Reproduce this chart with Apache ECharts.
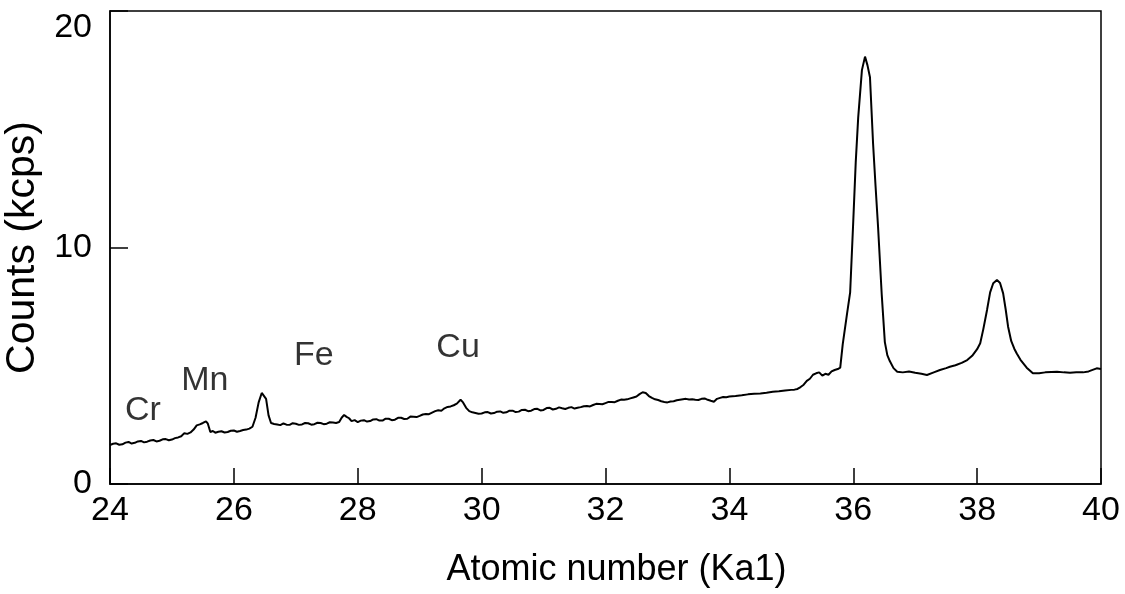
<!DOCTYPE html>
<html>
<head>
<meta charset="utf-8">
<script src="https://cdn.jsdelivr.net/npm/echarts@6/dist/echarts.min.js"></script>
<style>
html,body{margin:0;padding:0;background:#fff;}
#chart{width:1125px;height:594px;}
</style>
</head>
<body>
<div id="chart"></div>
<script>
// X ticks and Y ticks
const xTicks = [24, 26, 28, 30, 32, 34, 36, 38, 40];
const yTicks = [0, 10, 20];

// Spectrum: [atomic number (Ka1), counts (kcps)]
const spectrum = [
  [24.00,1.65],[24.05,1.70],[24.10,1.72],[24.15,1.66],[24.20,1.68],[24.25,1.75],[24.30,1.78],[24.35,1.71],
  [24.40,1.74],[24.45,1.80],[24.50,1.82],[24.55,1.76],[24.60,1.79],[24.65,1.84],[24.70,1.86],[24.75,1.80],
  [24.80,1.83],[24.85,1.89],[24.90,1.90],[24.95,1.85],[25.00,1.88],[25.05,1.94],[25.10,1.97],[25.15,2.02],
  [25.20,2.15],[25.25,2.12],[25.30,2.18],[25.35,2.30],[25.40,2.48],[25.45,2.52],[25.50,2.58],[25.55,2.65],
  [25.58,2.55],[25.62,2.20],[25.66,2.24],[25.70,2.17],[25.75,2.21],[25.80,2.23],[25.85,2.18],[25.90,2.20],
  [25.95,2.25],[26.00,2.26],[26.05,2.21],[26.10,2.24],[26.15,2.28],[26.20,2.30],[26.25,2.34],[26.30,2.42],
  [26.35,2.80],[26.40,3.45],[26.45,3.85],[26.48,3.92],[26.52,3.60],[26.56,2.90],[26.60,2.58],[26.65,2.54],
  [26.70,2.52],[26.75,2.49],[26.80,2.56],[26.85,2.51],[26.90,2.50],[26.95,2.57],[27.00,2.55],[27.05,2.50],
  [27.10,2.52],[27.15,2.58],[27.20,2.57],[27.25,2.51],[27.30,2.53],[27.35,2.59],[27.40,2.58],[27.45,2.53],
  [27.50,2.55],[27.55,2.61],[27.60,2.60],[27.65,2.58],[27.70,2.62],[27.74,2.80],[27.78,2.92],[27.82,2.84],
  [27.86,2.78],[27.90,2.66],[27.95,2.70],[28.00,2.62],[28.05,2.68],[28.10,2.70],[28.15,2.64],[28.20,2.66],
  [28.25,2.73],[28.30,2.74],[28.35,2.68],[28.40,2.68],[28.45,2.76],[28.50,2.76],[28.55,2.70],[28.60,2.72],
  [28.65,2.80],[28.70,2.80],[28.75,2.75],[28.80,2.76],[28.85,2.85],[28.90,2.84],[28.95,2.83],[29.00,2.88],
  [29.05,2.94],[29.10,2.96],[29.15,2.95],[29.20,3.02],[29.25,3.08],[29.30,3.12],[29.35,3.10],[29.40,3.20],
  [29.45,3.26],[29.50,3.28],[29.55,3.33],[29.60,3.40],[29.66,3.56],[29.70,3.45],[29.75,3.22],[29.80,3.08],
  [29.85,3.03],[29.90,3.00],[29.95,2.97],[30.00,2.98],[30.05,3.03],[30.10,3.04],[30.15,2.98],[30.20,3.00],
  [30.25,3.06],[30.30,3.07],[30.35,3.01],[30.40,3.03],[30.45,3.10],[30.50,3.10],[30.55,3.04],[30.60,3.06],
  [30.65,3.13],[30.70,3.14],[30.75,3.08],[30.80,3.10],[30.85,3.17],[30.90,3.18],[30.95,3.11],[31.00,3.13],
  [31.05,3.21],[31.10,3.22],[31.15,3.15],[31.20,3.18],[31.25,3.24],[31.30,3.20],[31.35,3.17],[31.40,3.22],
  [31.45,3.25],[31.50,3.19],[31.55,3.22],[31.60,3.25],[31.65,3.29],[31.70,3.30],[31.75,3.28],[31.80,3.34],
  [31.85,3.39],[31.90,3.38],[31.95,3.37],[32.00,3.42],[32.05,3.47],[32.10,3.47],[32.15,3.46],[32.20,3.52],
  [32.25,3.57],[32.30,3.56],[32.35,3.58],[32.40,3.62],[32.45,3.66],[32.50,3.70],[32.55,3.80],[32.60,3.88],
  [32.65,3.85],[32.70,3.72],[32.75,3.64],[32.80,3.58],[32.85,3.55],[32.90,3.50],[32.95,3.47],[33.00,3.45],
  [33.05,3.49],[33.10,3.50],[33.15,3.54],[33.20,3.56],[33.25,3.58],[33.30,3.60],[33.35,3.57],[33.40,3.58],
  [33.45,3.56],[33.50,3.55],[33.55,3.60],[33.60,3.62],[33.65,3.56],[33.70,3.52],[33.75,3.48],[33.80,3.60],
  [33.85,3.64],[33.90,3.68],[33.95,3.67],[34.00,3.70],[34.10,3.72],[34.20,3.75],[34.30,3.79],[34.40,3.82],
  [34.50,3.83],[34.60,3.86],[34.70,3.90],[34.80,3.92],[34.90,3.95],[35.00,3.98],[35.05,3.99],[35.10,4.02],
  [35.15,4.10],[35.20,4.20],[35.25,4.36],[35.30,4.45],[35.35,4.62],[35.40,4.68],[35.45,4.72],[35.50,4.58],
  [35.55,4.66],[35.60,4.62],[35.65,4.76],[35.70,4.82],[35.75,4.86],[35.79,4.92],[35.83,5.90],[35.90,7.20],
  [35.95,8.10],[36.00,11.10],[36.04,13.60],[36.08,15.50],[36.14,17.50],[36.19,18.07],[36.23,17.70],[36.27,17.20],
  [36.32,14.40],[36.36,12.60],[36.40,10.90],[36.46,8.00],[36.51,6.00],[36.55,5.45],[36.59,5.20],[36.65,4.90],
  [36.71,4.75],[36.80,4.72],[36.90,4.76],[37.00,4.70],[37.03,4.75],[37.10,4.66],[37.19,4.61],[37.30,4.72],
  [37.40,4.82],[37.50,4.90],[37.56,4.96],[37.65,5.02],[37.75,5.12],[37.84,5.24],[37.92,5.42],[38.00,5.70],
  [38.05,5.95],[38.10,6.55],[38.16,7.36],[38.21,8.10],[38.26,8.49],[38.32,8.63],[38.37,8.50],[38.42,8.06],
  [38.46,7.40],[38.50,6.65],[38.55,6.05],[38.60,5.72],[38.64,5.52],[38.70,5.25],[38.80,4.92],[38.90,4.68],
  [39.00,4.68],[39.10,4.72],[39.20,4.74],[39.29,4.75],[39.40,4.72],[39.50,4.70],[39.60,4.72],[39.71,4.72],
  [39.80,4.76],[39.93,4.89],[40.00,4.86]
];

// Element annotations: label, atomic number, counts
const annotationNames = ['Cr', 'Mn', 'Fe', 'Cu'];
const annotationX = [24.53, 25.53, 27.29, 29.62];
const annotationY = [3.09, 4.36, 5.41, 5.75];

const FONT = 'Liberation Sans, Arial, Helvetica, sans-serif';
const chart = echarts.init(document.getElementById('chart'), null, {renderer: 'canvas'});

const option = {
  animation: false,
  backgroundColor: '#ffffff',
  grid: {
    left: 110, right: 24, top: 11, bottom: 110,
    containLabel: false,
    outerBoundsMode: 'none',
    show: true, borderColor: '#000', borderWidth: 1.5, backgroundColor: 'transparent'
  },
  xAxis: {
    type: 'value',
    min: xTicks[0], max: xTicks[xTicks.length - 1], interval: 2,
    name: 'Atomic number (Ka1)',
    nameLocation: 'middle', nameGap: 68,
    nameTextStyle: {fontSize: 36, color: '#000', fontFamily: FONT, padding: [0, 0, 0, 22]},
    axisLine: {show: true, lineStyle: {color: '#000', width: 1.5}},
    axisTick: {show: true, inside: true, length: 16, lineStyle: {color: '#000', width: 1.5}},
    axisLabel: {fontSize: 34, color: '#000', fontFamily: FONT, margin: 10},
    splitLine: {show: false}
  },
  yAxis: {
    type: 'value',
    min: yTicks[0], max: yTicks[yTicks.length - 1], interval: 10,
    name: 'Counts (kcps)',
    nameLocation: 'middle', nameGap: 59, nameRotate: 90,
    nameTextStyle: {fontSize: 41, color: '#000', fontFamily: FONT},
    axisLine: {show: true, lineStyle: {color: '#000', width: 1.5}},
    axisTick: {show: true, inside: true, length: 18, lineStyle: {color: '#000', width: 1.5}},
    axisLabel: {fontSize: 34, color: '#000', fontFamily: FONT, margin: 18, verticalAlignMaxLabel: 'top'},
    splitLine: {show: false}
  },
  series: [
    {
      type: 'line',
      data: spectrum,
      showSymbol: false,
      symbol: 'none',
      lineStyle: {color: '#000', width: 2},
      silent: true
    },
    {
      type: 'scatter',
      symbolSize: 0,
      data: annotationNames.map((n, i) => ({name: n, value: [annotationX[i], annotationY[i]]})),
      label: {
        show: true, position: 'inside',
        formatter: p => p.name,
        fontSize: 34, color: '#000', fontFamily: FONT
      },
      silent: true
    }
  ]
};
chart.setOption(option);
</script>
</body>
</html>
